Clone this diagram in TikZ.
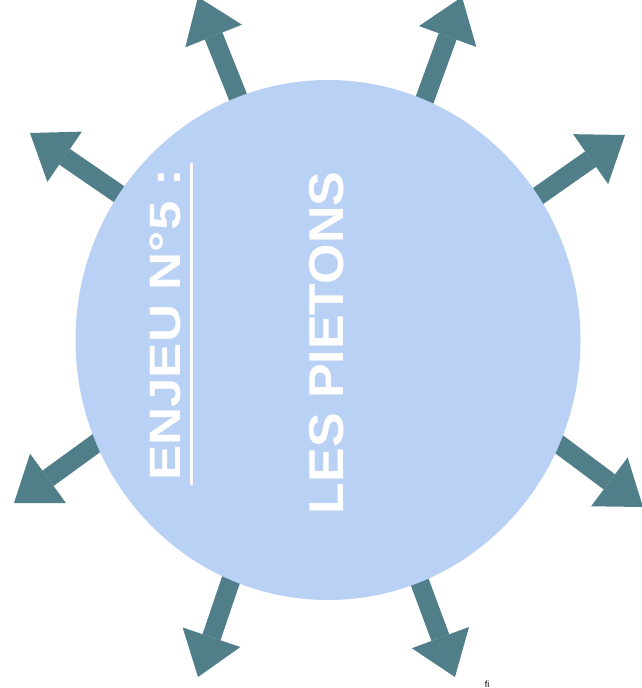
\documentclass[tikz,border=0pt]{standalone}
\usepackage{fontspec}
\setmainfont{Liberation Sans}
\usetikzlibrary{arrows.meta,shapes.geometric}
\definecolor{discblue}{RGB}{185,209,244}
\definecolor{arrowteal}{RGB}{80,126,137}
\tikzset{
  outarrow/.style={draw=arrowteal, line width=19pt,
    -{Triangle[length=42pt,width=61pt,line width=0pt]}, arrowteal},
  disc/.style={ellipse, fill=discblue, draw=none, inner sep=0pt,
    minimum width=505pt, minimum height=520pt},
  label/.style={text=white, font=\bfseries, inner sep=0pt, rotate=90, anchor=base},
  ul/.style={draw=white, line width=3pt}
}
\begin{document}
\begin{tikzpicture}[x=1pt,y=-1pt]
\useasboundingbox (0,0) rectangle (641,688);
% arrow bases (hidden under the disc) and tips
\coordinate (b1) at (242,107);  \coordinate (t1) at (198,-3);
\coordinate (b2) at (129,201);  \coordinate (t2) at (30,133);
\coordinate (b3) at (422,107);  \coordinate (t3) at (462,-3);
\coordinate (b4) at (531,201);  \coordinate (t4) at (625,135);
\coordinate (b5) at (109,434);  \coordinate (t5) at (14,503);
\coordinate (b6) at (235,568);  \coordinate (t6) at (198,677);
\coordinate (b7) at (548,436);  \coordinate (t7) at (643,507);
\coordinate (b8) at (413,564);  \coordinate (t8) at (455,677);
\foreach \i in {1,...,8} \draw[outarrow] (b\i) -- (t\i);
% disc
\node[disc] (c) at (328,340) {};
% texts
\node[label, font=\bfseries\fontsize{44}{44}\selectfont] (enjeu) at (180,325)
  {\scalebox{1.2}[1]{ENJEU N°5 :}};
\draw[ul] (191,163) -- (191,485);
\node[label, font=\bfseries\fontsize{49}{49}\selectfont] (pietons) at (343,343)
  {\scalebox{1.06}[1]{LES PIETONS}};
\node[font=\fontsize{9}{9}\selectfont, inner sep=0pt] (mark) at (487,684) {fi};
\end{tikzpicture}
\end{document}
